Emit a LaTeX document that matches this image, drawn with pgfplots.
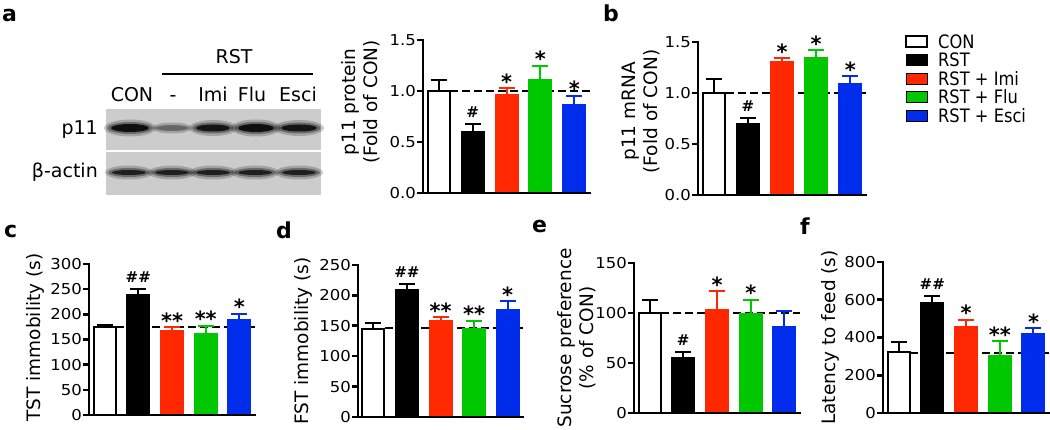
\documentclass[border=0pt]{standalone}
\usepackage{pgfplots}
\pgfplotsset{compat=1.18}
\usepackage{fontspec}
\setmainfont{DejaVu Sans}
\newfontfamily\legfont{DejaVu Sans}[FakeStretch=0.88]
\newfontfamily\tickfont{DejaVu Sans}[FakeStretch=1.1]

\definecolor{cRed}{RGB}{255,40,0}
\definecolor{cGreen}{RGB}{0,200,0}
\definecolor{cBlue}{RGB}{0,45,235}

\pgfplotsset{
 panel/.style={
   scale only axis, anchor=south west,
   xmin=-0.46, xmax=4.46, ymin=0,
   axis x line*=bottom, axis y line*=left,
   axis line style={-, line width=2.6pt, line cap=rect},
   xtick=\empty,
   tick align=outside,
   major tick length=6pt,
   every tick/.style={black, line width=2.6pt},
   yticklabel style={font=\fontsize{15}{15}\selectfont\tickfont, inner sep=1pt},
   clip=false, axis on top,
   every axis y label/.style={rotate=90, anchor=center, align=center, font=\fontsize{18.5}{22}\selectfont},
 },
 conbar/.style={forget plot, ybar, bar shift=0pt, bar width=22pt, fill=white, draw=black, line width=2pt,
   error bars/.cd, y dir=plus, y explicit, error bar style={black, line width=2pt},
   error mark options={rotate=90, black, line width=2pt, mark size=8pt}},
 cbar/.style={forget plot, ybar, bar shift=0pt, bar width=24pt, fill=#1, draw=none,
   error bars/.cd, y dir=plus, y explicit, error bar style={#1, line width=2pt},
   error mark options={rotate=90, #1, line width=2pt, mark size=8pt}},
 refline/.style={forget plot, black, line width=2.5pt, dash pattern=on 8pt off 4pt},
}

\newcommand\st[2]{\node[anchor=base, yshift=-1pt, inner sep=0pt, font=\fontsize{21}{21}\selectfont\bfseries] at (axis cs:#1) {#2};}
\newcommand\hs[2]{\node[anchor=base, yshift=6.5pt, inner sep=0pt, font=\fontsize{15}{15}\selectfont\bfseries] at (axis cs:#1) {#2};}

\newcommand\band[5]{%
 \fill[black, opacity=0.2] (#1,#2) ellipse [x radius=#3+3, y radius=#4+2.5];
 \fill[black, opacity=0.35] (#1,#2) ellipse [x radius=#3, y radius=#4];
 \fill[black, opacity=#5] (#1,#2) ellipse [x radius=#3-4, y radius=#4-2];
}

\begin{document}
\begin{tikzpicture}[x=1pt, y=1pt]
\useasboundingbox (0,0) rectangle (1050,430);

% ---------- panel letters ----------
\begin{scope}[every node/.style={anchor=base west, inner sep=0pt, font=\fontsize{22}{22}\selectfont\bfseries}]
\node at (2,408) {a};
\node at (603,408) {b};
\node at (4,192) {c};
\node at (276,191) {d};
\node at (532,197) {e};
\node at (800,195) {f};
\end{scope}

% ---------- western blot ----------
\fill[black!20] (106,235) rectangle (321,321);
\draw[white, line width=1.5pt] (106,279) -- (321,279);
\band{130}{302}{23}{6}{0.85}
\band{172}{302}{17}{3}{0.05}
\band{213}{302}{21}{5.5}{0.8}
\band{256}{302}{22}{6}{0.85}
\band{299}{302}{22}{5.5}{0.8}
\band{129}{257.5}{21}{4.5}{0.7}
\band{172}{257.5}{21}{4.5}{0.7}
\band{213}{257.5}{21}{4.5}{0.7}
\band{255}{257.5}{21}{4.5}{0.7}
\band{299}{257.5}{21}{4.5}{0.7}
\begin{scope}[every node/.style={inner sep=0pt, font=\fontsize{19}{20}\selectfont}]
\node[anchor=base] at (234,366) {RST};
\draw[line width=2.5pt] (162,356) -- (313,356);
\node[anchor=base] at (132,328) {CON};
\node[anchor=base] at (173,328) {-};
\node[anchor=base] at (213,328) {Imi};
\node[anchor=base] at (252,328) {Flu};
\node[anchor=base] at (298,328) {Esci};
\node[anchor=base east] at (98,295) {p11};
\node[anchor=base east] at (98,252) {β-actin};
\end{scope}

% ---------- panel a ----------
\begin{axis}[panel, at={(423pt,237pt)}, width=167pt, height=153pt, ymax=1.5,
  ytick={0,0.5,1,1.5}, yticklabels={0.0,0.5,1.0,1.5},
  ylabel={p11 protein\\(Fold of CON)},
  ylabel style={at={(axis description cs:-0.371,0.595)}}]
\addplot[refline] coordinates {(0.35,1) (4.46,1)};
\addplot[conbar] coordinates {(0,1.00) +- (0,0.105)};
\addplot[cbar=black] coordinates {(1,0.605) +- (0,0.075)};
\addplot[cbar=cRed] coordinates {(2,0.973) +- (0,0.052)};
\addplot[cbar=cGreen] coordinates {(3,1.114) +- (0,0.134)};
\addplot[cbar=cBlue] coordinates {(4,0.868) +- (0,0.085)};
\hs{1,0.68}{\#}
\st{2,1.025}{*}
\st{3,1.248}{*}
\st{4,0.953}{*}
\end{axis}

% ---------- panel b ----------
\begin{axis}[panel, at={(698pt,235pt)}, width=168pt, height=153pt, ymax=1.5,
  ytick={0,0.5,1,1.5}, yticklabels={0.0,0.5,1.0,1.5},
  ylabel={p11 mRNA\\(Fold of CON)},
  ylabel style={at={(axis description cs:-0.339,0.546)}},
  legend style={at={(axis description cs:1.232,1.05)}, anchor=north west, draw=none, fill=none,
    inner sep=0pt, row sep=3pt, column sep=10pt, font=\fontsize{18.5}{20}\selectfont\legfont,
    nodes={inner sep=0pt}},
  legend cell align=left,
  legend image code/.code={\draw[#1] (0pt,-5pt) rectangle (21pt,6pt);}]
\addplot[refline] coordinates {(0.35,1) (4.46,1)};
\addplot[conbar] coordinates {(0,1.00) +- (0,0.135)};
\addplot[cbar=black] coordinates {(1,0.704) +- (0,0.049)};
\addplot[cbar=cRed] coordinates {(2,1.314) +- (0,0.029)};
\addplot[cbar=cGreen] coordinates {(3,1.353) +- (0,0.065)};
\addplot[cbar=cBlue] coordinates {(4,1.099) +- (0,0.065)};
\hs{1,0.753}{\#}
\st{2,1.343}{*}
\st{3,1.418}{*}
\st{4,1.164}{*}
\addlegendimage{fill=white, draw=black, line width=2pt}
\addlegendentry{CON}
\addlegendimage{fill=black, draw=none}
\addlegendentry{RST}
\addlegendimage{fill=cRed, draw=none}
\addlegendentry{RST + Imi}
\addlegendimage{fill=cGreen, draw=none}
\addlegendentry{RST + Flu}
\addlegendimage{fill=cBlue, draw=none}
\addlegendentry{RST + Esci}
\end{axis}

% ---------- panel c ----------
\begin{axis}[panel, at={(89pt,15pt)}, width=166pt, height=151pt, ymax=300,
  ytick={0,50,100,150,200,250,300}, yticklabels={0,50,100,150,200,250,300},
  ylabel={TST immobility (s)},
  ylabel style={at={(axis description cs:-0.325,0.513)}}]
\addplot[refline] coordinates {(0.35,175) (4.46,175)};
\addplot[conbar] coordinates {(0,175) +- (0,4)};
\addplot[cbar=black] coordinates {(1,240) +- (0,11)};
\addplot[cbar=cRed] coordinates {(2,169) +- (0,5)};
\addplot[cbar=cGreen] coordinates {(3,163) +- (0,14)};
\addplot[cbar=cBlue] coordinates {(4,190) +- (0,11)};
\hs{1,251}{\#\#}
\st{2,174}{**}
\st{3,177}{**}
\st{4,201}{*}
\end{axis}

% ---------- panel d ----------
\begin{axis}[panel, at={(358pt,13pt)}, width=165pt, height=152pt, ymax=250,
  ytick={0,50,100,150,200,250}, yticklabels={0,50,100,150,200,250},
  ylabel={FST immobility (s)},
  ylabel style={at={(axis description cs:-0.333,0.5)}}]
\addplot[refline] coordinates {(0.35,146) (4.46,146)};
\addplot[conbar] coordinates {(0,145) +- (0,10)};
\addplot[cbar=black] coordinates {(1,210) +- (0,8)};
\addplot[cbar=cRed] coordinates {(2,159) +- (0,5)};
\addplot[cbar=cGreen] coordinates {(3,147) +- (0,11)};
\addplot[cbar=cBlue] coordinates {(4,178) +- (0,12)};
\hs{1,218}{\#\#}
\st{2,164}{**}
\st{3,158}{**}
\st{4,190}{*}
\end{axis}

% ---------- panel e ----------
\begin{axis}[panel, at={(634pt,17pt)}, width=166pt, height=150pt, ymax=150,
  ytick={0,50,100,150}, yticklabels={0,50,100,150},
  ylabel={Sucrose preference\\(\% of CON)},
  ylabel style={at={(axis description cs:-0.346,0.5)}}]
\addplot[refline] coordinates {(0.35,100) (4.46,100)};
\addplot[conbar] coordinates {(0,100) +- (0,12.7)};
\addplot[cbar=black] coordinates {(1,56) +- (0,4.7)};
\addplot[cbar=cRed] coordinates {(2,104.3) +- (0,17.4)};
\addplot[cbar=cGreen] coordinates {(3,100) +- (0,13)};
\addplot[cbar=cBlue] coordinates {(4,87.3) +- (0,15)};
\hs{1,60.7}{\#}
\st{2,121.7}{*}
\st{3,113}{*}
\end{axis}

% ---------- panel f ----------
\begin{axis}[panel, at={(883pt,17pt)}, width=166pt, height=151pt, ymax=800,
  ytick={0,200,400,600,800}, yticklabels={0,200,400,600,800},
  ylabel={Latency to feed (s)},
  ylabel style={at={(axis description cs:-0.319,0.5)}}]
\addplot[refline] coordinates {(0.35,318) (4.46,318)};
\addplot[conbar] coordinates {(0,321) +- (0,53)};
\addplot[cbar=black] coordinates {(1,590) +- (0,31)};
\addplot[cbar=cRed] coordinates {(2,461) +- (0,32)};
\addplot[cbar=cGreen] coordinates {(3,305) +- (0,74)};
\addplot[cbar=cBlue] coordinates {(4,424) +- (0,25)};
\hs{1,621}{\#\#}
\st{2,493}{*}
\st{3,379}{**}
\st{4,449}{*}
\end{axis}
\end{tikzpicture}
\end{document}
